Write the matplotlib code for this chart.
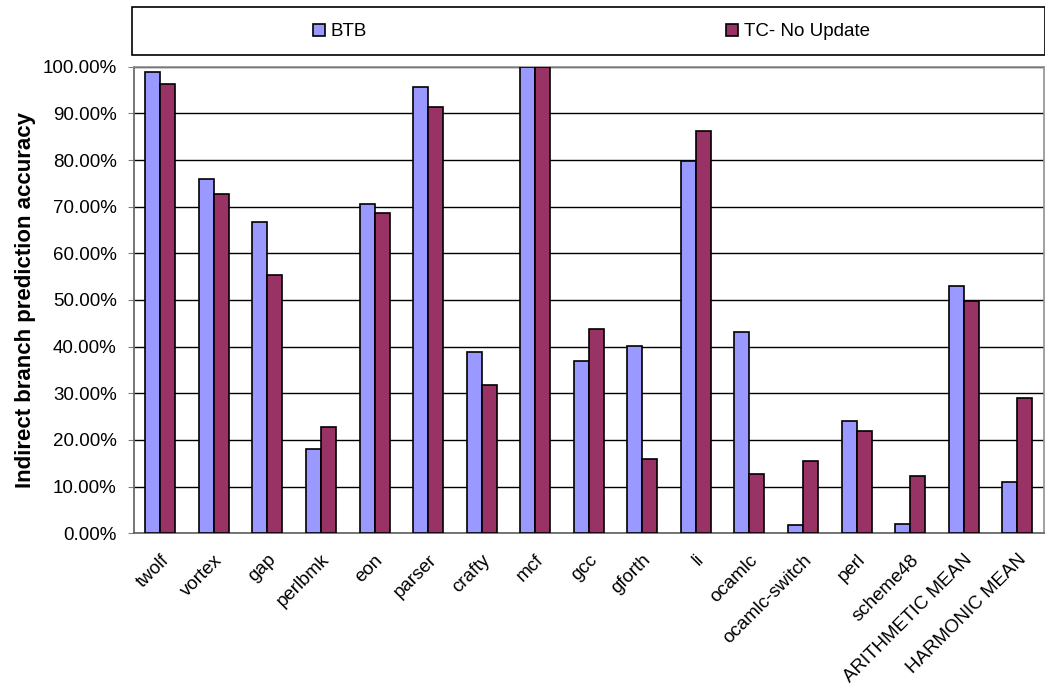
import matplotlib
matplotlib.use("Agg")
import matplotlib.pyplot as plt
import numpy as np
from matplotlib.patches import Rectangle, Patch
from matplotlib.ticker import FuncFormatter

categories = ["twolf", "vortex", "gap", "perlbmk", "eon", "parser", "crafty", "mcf",
              "gcc", "gforth", "li", "ocamlc", "ocamlc-switch", "perl", "scheme48",
              "ARITHMETIC MEAN", "HARMONIC MEAN"]
btb = [98.9, 76.0, 66.7, 18.1, 70.5, 95.7, 38.9, 99.9,
       37.0, 40.1, 79.8, 43.2, 1.7, 24.1, 2.0, 52.9, 10.9]
tc_no_update = [96.3, 72.8, 55.4, 22.7, 68.7, 91.4, 31.8, 99.9,
                43.7, 15.9, 86.3, 12.7, 15.6, 21.9, 12.3, 49.8, 28.9]
series_names = ["BTB", "TC- No Update"]
colors = ["#9999FF", "#993366"]

plt.rcParams['font.family'] = ['Liberation Sans', 'DejaVu Sans']

W, H = 1045, 696
fig = plt.figure(figsize=(W / 100, H / 100), dpi=100)
ax = fig.add_axes([133.5 / W, 1 - 533.3 / H, (1044 - 133.5) / W, (533.3 - 66.7) / H])

x = np.arange(len(categories))
bw = 0.28
ax.bar(x - bw / 2, btb, bw, color=colors[0], edgecolor="black", linewidth=1.2, zorder=3)
ax.bar(x + bw / 2, tc_no_update, bw, color=colors[1], edgecolor="black", linewidth=1.2, zorder=3)

ax.set_xlim(-0.5, len(categories) - 0.5)
ax.set_ylim(0, 100)
ax.set_yticks(np.arange(0, 101, 10))
ax.yaxis.set_major_formatter(FuncFormatter(lambda v, p: f"{v:.2f}%"))
ax.yaxis.grid(True, color="black", linewidth=1.0, zorder=0)
ax.set_axisbelow(True)
ax.set_xticks(x)
ax.set_xticklabels(categories, rotation=45, ha="right", rotation_mode="anchor", fontsize=13.5)
ax.tick_params(axis="x", length=0, pad=13)
ax.tick_params(axis="y", labelsize=13.5, length=4, color="#808080", pad=8)
for side in ["top", "right"]:
    ax.spines[side].set_color("#909090")
ax.spines["left"].set_color("#606060")
ax.spines["bottom"].set_color("#606060")
for s in ax.spines.values():
    s.set_linewidth(1.2)

ax.set_ylabel("Indirect branch prediction accuracy", fontsize=16, fontweight="bold", labelpad=5)

# legend box
fig.patches.append(Rectangle((132 / W, 1 - 55 / H), (1045 - 132) / W, 48 / H,
                             transform=fig.transFigure, fill=False,
                             edgecolor="black", linewidth=1.2))
handles = [Patch(facecolor=c, edgecolor="black", linewidth=1.2) for c in colors]
fig.legend(handles, series_names, loc="center left", ncol=2, frameon=False,
           bbox_to_anchor=(313 / W, 1 - 32 / H), fontsize=13.5,
           handlelength=0.64, handleheight=0.64, handletextpad=0.27,
           columnspacing=19.2, borderaxespad=0, borderpad=0)

fig.savefig("out.png", dpi=100)
